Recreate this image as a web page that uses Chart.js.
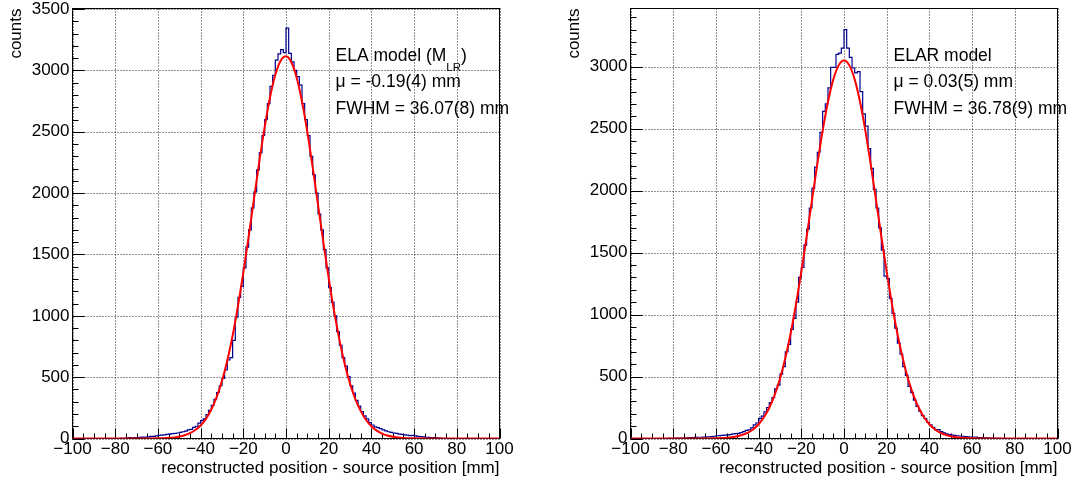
<!DOCTYPE html>
<html>
<head>
<meta charset="utf-8">
<title>Position resolution - ELA / ELAR</title>
<script src="https://cdn.jsdelivr.net/npm/chart.js@4.4.1/dist/chart.umd.min.js"></script>
<style>
  html, body { margin: 0; padding: 0; background: #fff; }
  #wrap { position: relative; width: 1075px; height: 481px; overflow: hidden; }
  canvas { position: absolute; top: 0; }
</style>
</head>
<body>
<div id="wrap">
  <canvas id="left" width="537" height="481" style="left:0px"></canvas>
  <canvas id="right" width="538" height="481" style="left:537px"></canvas>
</div>

<script>
// binning of both histograms (mm)
const binStart = -100;
const binWidth = 1.25;

// counts per bin (160 bins, -100 .. 100 mm)
const countsELA = [
  0,0,0,0,0,0,0,0,0,0,0,0,0,0,0,0,0,0,
  1,2,3,8,6,7,8,9,12,12,14,17,
  18,22,25,28,30,33,36,40,42,45,50,55,
  60,70,75,90,100,125,145,160,195,230,270,320,
  375,430,490,560,640,660,800,990,1150,1240,1390,1560,
  1700,1880,2010,2190,2330,2470,2600,2730,2870,2960,3085,3135,3170,3145,
  3345,3140,3070,3000,2950,2880,2730,2600,2470,2300,2150,2000,
  1830,1700,1540,1390,1230,1110,1000,870,760,660,590,505,
  430,370,310,265,220,185,160,130,110,95,88,80,
  70,62,55,50,45,42,36,33,30,27,24,26,
  22,18,15,13,10,9,7,8,5,3,2,
  0,0,0,0,0,0,0,0,0,0,0,0,0,0,0,0,0,0,0,0,0
];
const countsELAR = [
  0,0,0,0,0,0,0,0,0,0,0,0,0,0,
  1,2,2,3,3,4,5,6,7,8,9,10,
  10,12,13,14,15,18,22,24,25,28,30,32,
  38,40,42,48,55,65,70,85,110,125,160,180,
  215,250,290,330,400,430,520,580,700,760,880,970,
  1100,1300,1380,1560,1690,1860,2020,2190,2310,2470,2640,2700,
  2830,2995,2995,3100,3110,3150,
  3300,3150,3075,2990,2950,2960,2800,2620,2520,2340,2180,2010,
  1860,1700,1520,1310,1290,1130,1010,890,770,680,580,510,
  420,370,310,260,220,185,160,130,110,90,70,72,
  55,45,38,32,28,25,22,20,18,15,14,12,
  10,12,8,7,6,5,4,3,2,2,1,
  0,0,0,0,0,0,0,0,0,0,0,0,0,0,0,0,0,0,0,0,0
];

// fitted curves (red), sampled from the plots
const fitX = [-100,-80,-70,-65,
  -60,-57.5,-55,-52.5,-50,-47.5,-45,-42.5,-40,-37.5,-35,-32.5,-30,-27.5,-25,-22.5,-20,-17.5,-15,-12.5,-10,-7.5,-5,-2.5,
  0,
  2.5,5,7.5,10,12.5,15,17.5,20,22.5,25,27.5,30,32.5,35,37.5,40,42.5,45,47.5,50,52.5,55,57.5,60,
  65,70,80,100];
const fitELA = [0,0,0.1,0.4,
  1.5,2.8,5.2,9.2,15.8,26.5,43,69,106,160,236,337,469,636,839,1079,1350,1645,1953,2256,2537,2780,2965,3080,
  3115,
  3067,2941,2746,2497,2210,1905,1599,1307,1040,806,608,447,320,223,151,100,64,40,24.5,14.5,8.4,4.7,2.6,1.4,
  0.3,0.1,0,0];
const fitELAR = [0,0,0.1,0.5,
  1.9,3.5,6.2,10.7,18,30,48,75,115,171,248,350,482,647,847,1081,1344,1628,1923,2214,2485,2718,2898,3011,
  3050,
  3011,2898,2718,2485,2214,1923,1628,1344,1081,847,647,482,350,248,171,115,75,48,30,18,10.7,6.2,3.5,1.9,
  0.5,0.1,0,0];

// axis ticks
const xTicks = [-100,-80,-60,-40,-20,0,20,40,60,80,100];
const yTicks = [0,500,1000,1500,2000,2500,3000,3500];

// fit results written in the pads
const notesELA = ['ELA model (M_{LR})', 'μ = -0.19(4) mm', 'FWHM = 36.07(8) mm'];
const notesELAR = ['ELAR model', 'μ = 0.03(5) mm', 'FWHM = 36.78(9) mm'];

const FONT = '"Liberation Sans", Arial, Helvetica, sans-serif';
Chart.defaults.font.family = FONT;
Chart.defaults.color = '#000';

// draws text with _{...} subscripts
function drawRich(ctx, text, x, y) {
  const parts = text.split(/_\{([^}]*)\}/);
  parts.forEach((p, k) => {
    if (!p) return;
    if (k % 2 === 1) {
      ctx.font = '11.5px ' + FONT;
      ctx.fillText(p, x, y + 9.5);
    } else {
      ctx.font = '17.5px ' + FONT;
      ctx.fillText(p, x, y);
    }
    x += ctx.measureText(p).width;
  });
}

// ROOT-like frame, dotted grid, inner ticks and texts
const rootStyle = {
  id: 'rootStyle',
  beforeDatasetsDraw(chart, args, o) {
    const {ctx, chartArea: a, scales: {x, y}} = chart;
    ctx.save();
    // grid
    ctx.strokeStyle = 'rgba(0,0,0,0.85)';
    ctx.lineWidth = 1;
    ctx.setLineDash([1, 2]);
    ctx.beginPath();
    xTicks.forEach(v => {
      const px = Math.round(x.getPixelForValue(v)) + 0.5;
      ctx.moveTo(px, a.top); ctx.lineTo(px, a.bottom);
    });
    yTicks.filter(v => v <= y.max).forEach(v => {
      const py = Math.round(y.getPixelForValue(v)) + 0.5;
      ctx.moveTo(a.left, py); ctx.lineTo(a.right, py);
    });
    ctx.stroke();
    ctx.setLineDash([]);

    // frame
    ctx.strokeStyle = '#000';
    ctx.strokeRect(a.left, a.top, a.right - a.left, a.bottom - a.top);

    // ticks pointing inside
    ctx.beginPath();
    for (let v = -100; v <= 100; v += 5) {
      const px = Math.round(x.getPixelForValue(v)) + 0.5;
      const len = v % 20 === 0 ? 10 : 5;
      ctx.moveTo(px, a.bottom); ctx.lineTo(px, a.bottom - len);
    }
    for (let v = 0; v <= y.max; v += 100) {
      const py = Math.round(y.getPixelForValue(v)) + 0.5;
      const len = v % 500 === 0 ? 12 : 6;
      ctx.moveTo(a.left, py); ctx.lineTo(a.left + len, py);
    }
    ctx.stroke();
    ctx.restore();
  },
  afterDraw(chart, args, o) {
    const {ctx, chartArea: a} = chart;
    ctx.save();
    ctx.fillStyle = '#000';
    ctx.textBaseline = 'alphabetic';
    ctx.textAlign = 'left';
    o.notes.forEach((t, k) => drawRich(ctx, t, a.left + o.noteDx, a.top + o.noteDy[k]));

    // axis titles
    ctx.font = '17px ' + FONT;
    ctx.textAlign = 'right';
    ctx.fillText('reconstructed position - source position [mm]', a.right, 473);
    ctx.translate(a.left - 56.5, a.top);
    ctx.rotate(-Math.PI / 2);
    ctx.textBaseline = 'middle';
    ctx.fillText('counts', 0, 0);
    ctx.restore();
  }
};

function makeChart(id, counts, fit, yMax, yWidth, padRight, notes) {
  const hist = counts.map((c, i) => ({x: binStart + i * binWidth, y: c}));
  hist.push({x: binStart + counts.length * binWidth, y: counts[counts.length - 1]});
  const curve = fitX.map((v, i) => ({x: v, y: fit[i]}));

  return new Chart(document.getElementById(id), {
    type: 'line',
    data: {
      datasets: [
        { label: 'fit', data: curve, borderColor: '#ff0000', borderWidth: 2,
          pointRadius: 0, cubicInterpolationMode: 'monotone', order: 0 },
        { label: 'data', data: hist, borderColor: '#00008f', borderWidth: 1.2,
          pointRadius: 0, stepped: 'before', order: 1 }
      ]
    },
    options: {
      responsive: false,
      animation: false,
      events: [],
      layout: { padding: { left: 0, top: 8.5, right: padRight, bottom: 0 } },
      plugins: {
        legend: { display: false },
        tooltip: { enabled: false },
        rootStyle: { notes: notes, noteDx: 263, noteDy: [52.5, 78.8, 105.8] }
      },
      scales: {
        x: {
          type: 'linear', min: -100, max: 100,
          grid: { display: false, drawTicks: false }, border: { display: false },
          afterBuildTicks: s => { s.ticks = xTicks.map(v => ({value: v})); },
          afterFit: s => { s.height = 42.5; s.paddingLeft = 0; s.paddingRight = 0; },
          ticks: {
            font: { size: 17 }, color: '#000', padding: 1,
            maxRotation: 0, autoSkip: false,
            callback: v => v < 0 ? '\u2212' + Math.abs(v) : String(v)
          }
        },
        y: {
          type: 'linear', min: 0, max: yMax,
          grid: { display: false, drawTicks: false }, border: { display: false },
          afterBuildTicks: s => { s.ticks = yTicks.filter(v => v <= yMax).map(v => ({value: v})); },
          afterFit: s => { s.width = yWidth; s.paddingTop = 0; s.paddingBottom = 0; },
          ticks: { font: { size: 17 }, color: '#000', padding: 3, callback: v => String(v) }
        }
      }
    },
    plugins: [rootStyle]
  });
}

makeChart('left', countsELA, fitELA, 3505, 72.5, 37.5, notesELA);
makeChart('right', countsELAR, fitELAR, 3470, 93.5, 17.5, notesELAR);
</script>
</body>
</html>
